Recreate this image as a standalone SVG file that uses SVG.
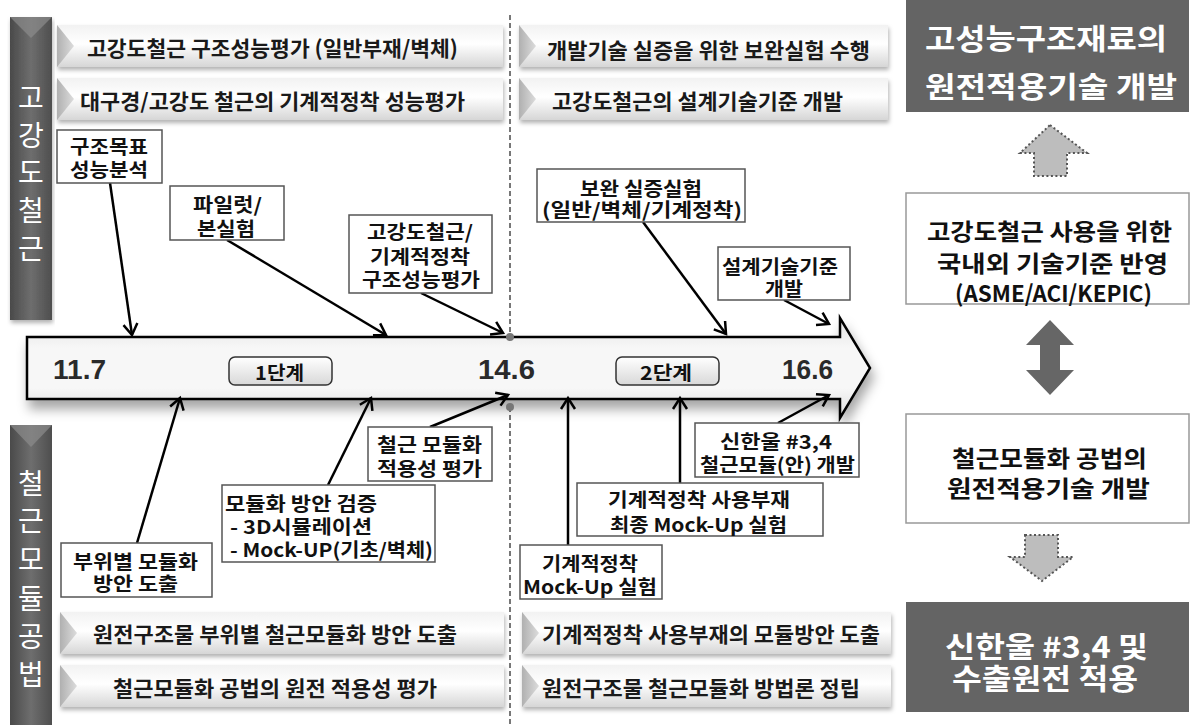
<svg xmlns="http://www.w3.org/2000/svg" width="1193" height="725" viewBox="0 0 1193 725">
<style>
.k{font-family:"Noto Sans CJK KR","Noto Sans",sans-serif;font-weight:700;dominant-baseline:central}
.bn{font-size:21px;fill:#1a1a1a}
.bx{font-size:19px;fill:#111}
.rt{font-size:29px;fill:#fff}
.rb{font-size:23px;fill:#111}
.vt{font-size:28px;fill:#fff;font-weight:400;text-anchor:middle}
.num{font-family:"Liberation Sans",Arial,sans-serif;font-weight:700;font-size:27px;fill:#2a2a2a;dominant-baseline:central}
.box{fill:#fff;stroke:#555;stroke-width:1.5}
.ban{fill:url(#banG);filter:url(#sh)}
.tri{fill:url(#triG)}
.con line{stroke:#000;stroke-width:2.5;marker-end:url(#ah)}
.step{fill:url(#stepG);stroke:#333;stroke-width:1.5}
.dot{fill:#bdbdbd;stroke:#555;stroke-width:2;stroke-dasharray:2 2.5}
</style>
<defs>
<linearGradient id="banG" x1="0" y1="0" x2="0" y2="1">
<stop offset="0" stop-color="#f2f2f2"/><stop offset="0.45" stop-color="#ffffff"/><stop offset="1" stop-color="#d6d6d6"/>
</linearGradient>
<linearGradient id="triG" x1="0" y1="0" x2="1" y2="0">
<stop offset="0" stop-color="#b0b0b0"/><stop offset="1" stop-color="#dcdcdc"/>
</linearGradient>
<linearGradient id="barG" x1="0" y1="0" x2="1" y2="0">
<stop offset="0" stop-color="#4a4a4a"/><stop offset="0.5" stop-color="#6e6e6e"/><stop offset="1" stop-color="#4e4e4e"/>
</linearGradient>
<linearGradient id="tlG" x1="0" y1="0" x2="0" y2="1">
<stop offset="0" stop-color="#e2e2e2"/><stop offset="0.3" stop-color="#f7f7f7"/><stop offset="0.7" stop-color="#f7f7f7"/><stop offset="1" stop-color="#dcdcdc"/>
</linearGradient>
<linearGradient id="stepG" x1="0" y1="0" x2="0" y2="1">
<stop offset="0" stop-color="#ffffff"/><stop offset="1" stop-color="#d8d8d8"/>
</linearGradient>
<filter id="sh" x="-5%" y="-20%" width="110%" height="150%">
<feDropShadow dx="1" dy="3" stdDeviation="2" flood-color="#000" flood-opacity="0.3"/>
</filter>
<filter id="sh2" x="-5%" y="-30%" width="110%" height="180%">
<feDropShadow dx="3" dy="9" stdDeviation="6" flood-color="#000" flood-opacity="0.35"/>
</filter>
<marker id="ah" markerUnits="userSpaceOnUse" markerWidth="18" markerHeight="18" viewBox="0 0 18 18" refX="14" refY="9" orient="auto">
<path d="M3,2 L14,9 L3,16" fill="none" stroke="#000" stroke-width="2.5"/>
</marker>
</defs>
<rect width="1193" height="725" fill="#fff"/>

<!-- left vertical bars -->
<g id="bar-top">
<rect x="10" y="17" width="42" height="303" fill="url(#barG)" filter="url(#sh)"/>
<polygon points="10,17 52,17 31,38" fill="#8c8c8c" opacity="0.7"/>
<text class="k vt" x="31" y="96">고</text>
<text class="k vt" x="31" y="134">강</text>
<text class="k vt" x="31" y="171">도</text>
<text class="k vt" x="31" y="209">철</text>
<text class="k vt" x="31" y="247">근</text>
</g>
<g id="bar-bottom">
<rect x="10" y="425" width="42" height="300" fill="url(#barG)"/>
<polygon points="10,425 52,425 31,447" fill="#8c8c8c" opacity="0.7"/>
<text class="k vt" x="31" y="482">철</text>
<text class="k vt" x="31" y="519">근</text>
<text class="k vt" x="31" y="558">모</text>
<text class="k vt" x="31" y="597">듈</text>
<text class="k vt" x="31" y="635">공</text>
<text class="k vt" x="31" y="673">법</text>
</g>

<!-- banners -->
<g id="ban-l1"><rect class="ban" x="57" y="25" width="446" height="42"/><polygon class="tri" points="57,25 74,46 57,67"/><text class="k bn" x="87" y="47" textLength="371" lengthAdjust="spacingAndGlyphs">고강도철근 구조성능평가 (일반부재/벽체)</text></g>
<g id="ban-l2"><rect class="ban" x="57" y="78" width="446" height="42"/><polygon class="tri" points="57,78 74,99 57,120"/><text class="k bn" x="80" y="100" textLength="385" lengthAdjust="spacingAndGlyphs">대구경/고강도 철근의 기계적정착 성능평가</text></g>
<g id="ban-r1"><rect class="ban" x="519" y="25" width="369" height="42"/><polygon class="tri" points="519,25 536,46 519,67"/><text class="k bn" x="547" y="49" textLength="323" lengthAdjust="spacingAndGlyphs">개발기술 실증을 위한 보완실험 수행</text></g>
<g id="ban-r2"><rect class="ban" x="519" y="78" width="369" height="42"/><polygon class="tri" points="519,78 536,99 519,120"/><text class="k bn" x="552" y="100" textLength="291" lengthAdjust="spacingAndGlyphs">고강도철근의 설계기술기준 개발</text></g>
<g id="ban-bl1"><rect class="ban" x="60" y="612" width="444" height="42"/><polygon class="tri" points="60,612 77,633 60,654"/><text class="k bn" x="93" y="633" textLength="364" lengthAdjust="spacingAndGlyphs">원전구조물 부위별 철근모듈화 방안 도출</text></g>
<g id="ban-bl2"><rect class="ban" x="60" y="665" width="444" height="42"/><polygon class="tri" points="60,665 77,686 60,707"/><text class="k bn" x="113" y="687" textLength="324" lengthAdjust="spacingAndGlyphs">철근모듈화 공법의 원전 적용성 평가</text></g>
<g id="ban-br1"><rect class="ban" x="522" y="612" width="369" height="42"/><polygon class="tri" points="522,612 539,633 522,654"/><text class="k bn" x="542" y="633" textLength="338" lengthAdjust="spacingAndGlyphs">기계적정착 사용부재의 모듈방안 도출</text></g>
<g id="ban-br2"><rect class="ban" x="522" y="665" width="369" height="42"/><polygon class="tri" points="522,665 539,686 522,707"/><text class="k bn" x="542" y="687" textLength="318" lengthAdjust="spacingAndGlyphs">원전구조물 철근모듈화 방법론 정립</text></g>

<!-- divider -->
<g id="divider" stroke="#777" stroke-width="2" stroke-dasharray="5 3">
<line x1="510" y1="15" x2="510" y2="337"/>
<line x1="510" y1="407" x2="510" y2="725"/>
</g>

<!-- timeline -->
<g id="timeline">
<polygon points="27,337 840,337 840,318 870,368 840,418 840,399 27,399" fill="url(#tlG)" stroke="#000" stroke-width="2.5" stroke-linejoin="miter" filter="url(#sh2)"/>
<text class="num" x="53" y="370" textLength="53" lengthAdjust="spacingAndGlyphs">11.7</text>
<text class="num" x="478" y="370" textLength="57" lengthAdjust="spacingAndGlyphs">14.6</text>
<text class="num" x="782" y="370" textLength="51" lengthAdjust="spacingAndGlyphs">16.6</text>
<rect class="step" x="229" y="357" width="103" height="28" rx="6"/>
<text class="k" x="255" y="371" font-size="19" fill="#111" textLength="49" lengthAdjust="spacingAndGlyphs">1단계</text>
<rect class="step" x="616" y="357" width="103" height="28" rx="6"/>
<text class="k" x="640" y="371" font-size="19" fill="#111" textLength="52" lengthAdjust="spacingAndGlyphs">2단계</text>
<circle cx="510" cy="337" r="4" fill="#777"/>
<circle cx="510" cy="407" r="4" fill="#777"/>
</g>

<!-- connectors -->
<g id="connectors" class="con">
<line x1="110" y1="183" x2="132" y2="335"/>
<line x1="227" y1="240" x2="386" y2="335"/>
<line x1="421" y1="293" x2="503" y2="333"/>
<line x1="643" y1="222" x2="726" y2="334"/>
<line x1="784" y1="300" x2="829" y2="324"/>
<line x1="137" y1="543" x2="180" y2="398"/>
<line x1="328" y1="485" x2="371" y2="398"/>
<line x1="430" y1="427" x2="508" y2="395"/>
<line x1="568" y1="545" x2="568" y2="398"/>
<line x1="680" y1="483" x2="680" y2="398"/>
<line x1="778" y1="423" x2="829" y2="395"/>
</g>

<!-- top boxes -->
<g id="n-goal"><rect class="box" x="57" y="130" width="105" height="53"/>
<text class="k bx" x="70" y="145" textLength="78" lengthAdjust="spacingAndGlyphs">구조목표</text>
<text class="k bx" x="70" y="168" textLength="78" lengthAdjust="spacingAndGlyphs">성능분석</text></g>
<g id="n-pilot"><rect class="box" x="170" y="186" width="114" height="54"/>
<text class="k bx" x="193" y="203" textLength="69" lengthAdjust="spacingAndGlyphs">파일럿/</text>
<text class="k bx" x="197" y="227" textLength="58" lengthAdjust="spacingAndGlyphs">본실험</text></g>
<g id="n-hs"><rect class="box" x="349" y="215" width="143" height="78"/>
<text class="k bx" x="367" y="230" textLength="106" lengthAdjust="spacingAndGlyphs">고강도철근/</text>
<text class="k bx" x="370" y="255" textLength="100" lengthAdjust="spacingAndGlyphs">기계적정착</text>
<text class="k bx" x="362" y="278" textLength="118" lengthAdjust="spacingAndGlyphs">구조성능평가</text></g>
<g id="n-supp"><rect class="box" x="537" y="169" width="208" height="53"/>
<text class="k bx" x="580" y="187" textLength="122" lengthAdjust="spacingAndGlyphs">보완 실증실험</text>
<text class="k bx" x="542" y="208" textLength="200" lengthAdjust="spacingAndGlyphs">(일반/벽체/기계정착)</text></g>
<g id="n-design"><rect class="box" x="718" y="247" width="132" height="53"/>
<text class="k bx" x="722" y="265" textLength="116" lengthAdjust="spacingAndGlyphs">설계기술기준</text>
<text class="k bx" x="765" y="287" textLength="38" lengthAdjust="spacingAndGlyphs">개발</text></g>

<!-- bottom boxes -->
<g id="n-modapp"><rect class="box" x="368" y="427" width="124" height="54"/>
<text class="k bx" x="377" y="443" textLength="105" lengthAdjust="spacingAndGlyphs">철근 모듈화</text>
<text class="k bx" x="377" y="467" textLength="105" lengthAdjust="spacingAndGlyphs">적용성 평가</text></g>
<g id="n-verify"><rect class="box" x="222" y="485" width="213" height="77"/>
<text class="k bx" x="225" y="502" textLength="152" lengthAdjust="spacingAndGlyphs">모듈화 방안 검증</text>
<text class="k bx" x="230" y="525" textLength="142" lengthAdjust="spacingAndGlyphs">- 3D시뮬레이션</text>
<text class="k bx" x="230" y="548" textLength="203" lengthAdjust="spacingAndGlyphs">- Mock-UP(기초/벽체)</text></g>
<g id="n-part"><rect class="box" x="61" y="543" width="151" height="54"/>
<text class="k bx" x="73" y="560" textLength="125" lengthAdjust="spacingAndGlyphs">부위별 모듈화</text>
<text class="k bx" x="93" y="582" textLength="85" lengthAdjust="spacingAndGlyphs">방안 도출</text></g>
<g id="n-shin"><rect class="box" x="695" y="423" width="164" height="54"/>
<text class="k bx" x="720" y="440" textLength="112" lengthAdjust="spacingAndGlyphs">신한울 #3,4</text>
<text class="k bx" x="700" y="463" textLength="155" lengthAdjust="spacingAndGlyphs">철근모듈(안) 개발</text></g>
<g id="n-final"><rect class="box" x="577" y="483" width="246" height="53"/>
<text class="k bx" x="608" y="498" textLength="182" lengthAdjust="spacingAndGlyphs">기계적정착 사용부재</text>
<text class="k bx" x="610" y="523" textLength="177" lengthAdjust="spacingAndGlyphs">최종 Mock-Up 실험</text></g>
<g id="n-mech"><rect class="box" x="520" y="545" width="142" height="54"/>
<text class="k bx" x="542" y="562" textLength="96" lengthAdjust="spacingAndGlyphs">기계적정착</text>
<text class="k bx" x="523" y="585" textLength="134" lengthAdjust="spacingAndGlyphs">Mock-Up 실험</text></g>

<!-- right column -->
<g id="r-top"><rect x="906" y="0" width="283" height="112" fill="#646464"/>
<text class="k rt" x="925" y="37" textLength="242" lengthAdjust="spacingAndGlyphs">고성능구조재료의</text>
<text class="k rt" x="925" y="85" textLength="252" lengthAdjust="spacingAndGlyphs">원전적용기술 개발</text></g>
<g id="r-up"><polygon class="dot" points="1050,125 1087,153 1067,153 1067,176 1034,176 1034,153 1020,153"/></g>
<g id="r-std"><rect x="906" y="193" width="283" height="111" fill="#fff" stroke="#999" stroke-width="1.5"/>
<text class="k rb" x="927" y="230" textLength="245" lengthAdjust="spacingAndGlyphs">고강도철근 사용을 위한</text>
<text class="k rb" x="937" y="262" textLength="231" lengthAdjust="spacingAndGlyphs">국내외 기술기준 반영</text>
<text class="k rb" x="955" y="292" textLength="197" lengthAdjust="spacingAndGlyphs">(ASME/ACI/KEPIC)</text></g>
<g id="r-both"><polygon points="1050,320 1074,345 1060,345 1060,370 1074,370 1050,395 1026,370 1040,370 1040,345 1026,345" fill="#666"/></g>
<g id="r-mod"><rect x="906" y="414" width="283" height="109" fill="#fff" stroke="#999" stroke-width="1.5"/>
<text class="k rb" x="952" y="457" textLength="195" lengthAdjust="spacingAndGlyphs">철근모듈화 공법의</text>
<text class="k rb" x="947" y="487" textLength="203" lengthAdjust="spacingAndGlyphs">원전적용기술 개발</text></g>
<g id="r-down"><polygon class="dot" points="1025,535 1058,535 1058,557 1073,557 1042,581 1010,557 1025,557"/></g>
<g id="r-bottom"><rect x="906" y="602" width="283" height="110" fill="#646464"/>
<text class="k rt" x="945" y="645" textLength="203" lengthAdjust="spacingAndGlyphs">신한울 #3,4 및</text>
<text class="k rt" x="952" y="677" textLength="186" lengthAdjust="spacingAndGlyphs">수출원전 적용</text></g>
</svg>
